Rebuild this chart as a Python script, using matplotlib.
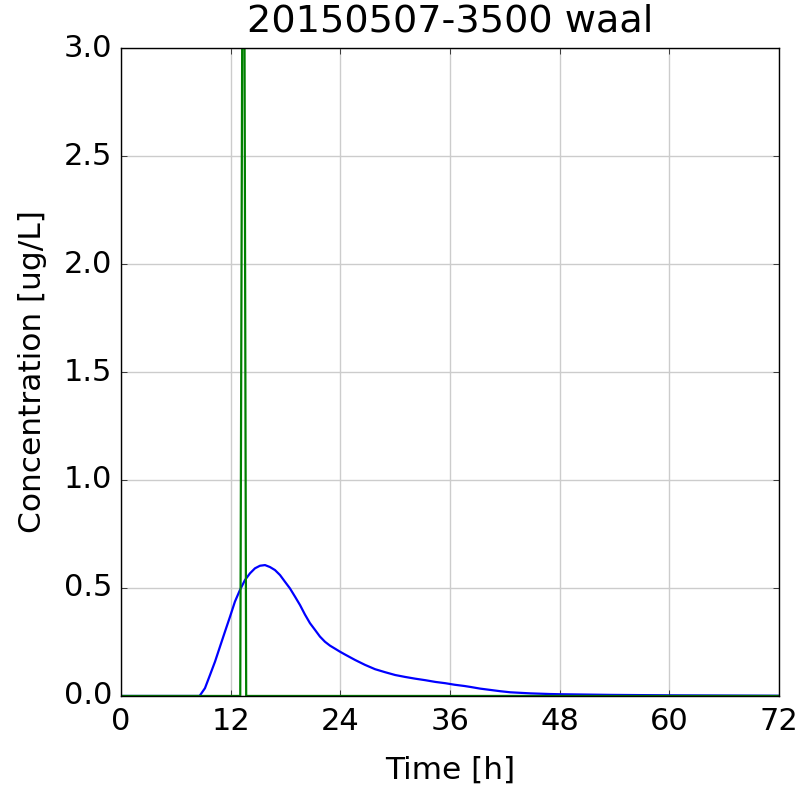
import matplotlib
matplotlib.use('Agg')
import matplotlib.pyplot as plt

plt.style.use('classic')

# modelled concentration (blue)
time_model = [0, 8.6, 9.19, 9.74, 10.29, 10.83, 11.38, 11.93, 12.47, 13.02, 13.57, 14.12,
              14.66, 15.21, 15.76, 16.3, 16.85, 17.4, 17.94, 18.49, 19.04, 19.59, 20.13,
              20.68, 21.23, 21.77, 22.32, 22.87, 23.42, 23.96, 24.51, 25.6, 26.7, 27.8,
              28.9, 30.0, 31.1, 32.2, 33.3, 34.4, 35.5, 36.5, 37.6, 38.2, 39.3, 40.4,
              41.5, 42.6, 44.8, 46.9, 48.0, 53.5, 60.0, 72.0]
conc_model = [0, 0.0, 0.036, 0.097, 0.159, 0.228, 0.298, 0.367, 0.437, 0.491, 0.537, 0.568,
              0.591, 0.603, 0.606, 0.597, 0.583, 0.560, 0.529, 0.498, 0.460, 0.421, 0.377,
              0.337, 0.306, 0.275, 0.251, 0.233, 0.219, 0.205, 0.192, 0.167, 0.144, 0.124,
              0.110, 0.097, 0.088, 0.080, 0.073, 0.065, 0.059, 0.052, 0.046, 0.042, 0.034, 0.028,
              0.022, 0.017, 0.012, 0.009, 0.008, 0.005, 0.003, 0.001]

# release pulse (green)
time_pulse = [0, 13.05, 13.4, 13.7, 72]
conc_pulse = [0, 0, 5.0, 0, 0]

xticks = [0, 12, 24, 36, 48, 60, 72]
yticks = [0.0, 0.5, 1.0, 1.5, 2.0, 2.5, 3.0]

fig = plt.figure(figsize=(7.98, 7.88), dpi=100, facecolor='white')
ax = fig.add_axes([0.1516, 0.1168, 0.8246, 0.8222])

ax.plot(time_model, conc_model, color='b', lw=1.6)
ax.plot(time_pulse, conc_pulse, color='g', lw=1.6)

ax.set_xlim(0, 72)
ax.set_ylim(0, 3)
ax.set_xticks(xticks)
ax.set_yticks(yticks)
ax.grid(True, color='#cccccc', linestyle='-', linewidth=1)
ax.set_axisbelow(True)
ax.tick_params(labelsize=22)
ax.tick_params(axis='x', pad=8)
ax.tick_params(axis='y', pad=6.5)

ax.set_xlabel('Time [h]', fontsize=22.5, labelpad=14)
ax.set_ylabel('Concentration [ug/L]', fontsize=22.5, labelpad=12)
ax.set_title('20150507-3500 waal', fontsize=27.5, pad=12)

fig.savefig('out.png', dpi=100, facecolor='white')
